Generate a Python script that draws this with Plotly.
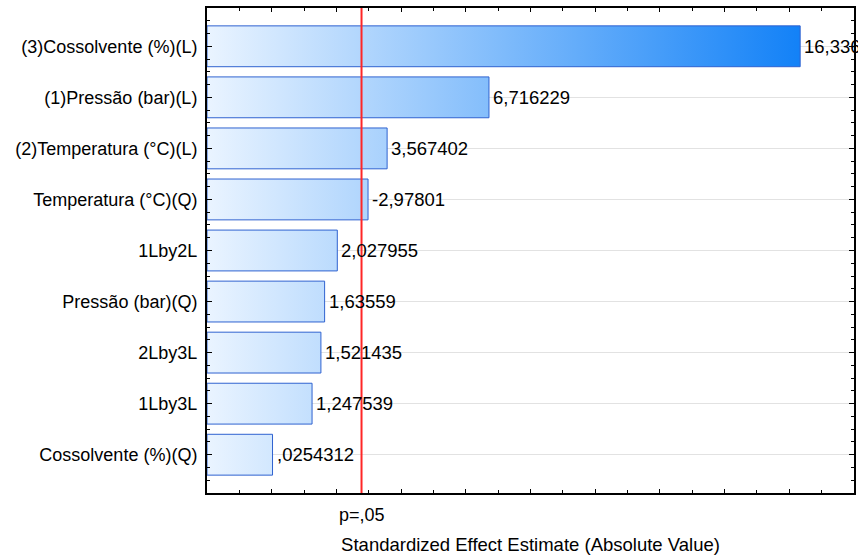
import plotly.graph_objects as go

# Pareto chart of standardized effects
factors = [
    "(3)Cossolvente (%)(L)",
    "(1)Pressão (bar)(L)",
    "(2)Temperatura (°C)(L)",
    "Temperatura (°C)(Q)",
    "1Lby2L",
    "Pressão (bar)(Q)",
    "2Lby3L",
    "1Lby3L",
    "Cossolvente (%)(Q)",
]
effects = [16.33602, 6.716229, 3.567402, -2.97801, 2.027955, 1.63559, 1.521435, 1.247539, 0.0254312]
alpha = 0.05
t_crit = 2.776445
x_range = [-2, 18]

FONT = "Liberation Sans, Arial, sans-serif"
BAR_W = 0.8


def fmt(v):
    """Format numbers with a decimal comma and no leading zero."""
    s = f"{v:.7g}".replace(".", ",")
    if s.startswith("0,"):
        s = s[1:]
    elif s.startswith("-0,"):
        s = "-" + s[2:]
    return s


abs_eff = [abs(v) for v in effects]
x0 = x_range[0]
vmax = max(abs_eff)

fig = go.Figure()

for i, a in enumerate(abs_eff):
    fig.add_trace(go.Scatter(
        x=[x0, a, a, x0, x0],
        y=[i - BAR_W / 2, i - BAR_W / 2, i + BAR_W / 2, i + BAR_W / 2, i - BAR_W / 2],
        mode="lines",
        fill="toself",
        fillgradient=dict(
            type="horizontal",
            colorscale=[[0, "#eaf4ff"], [1, "#1281f7"]],
            start=x0,
            stop=vmax,
        ),
        line=dict(color="#2f62d0", width=1),
        hoverinfo="skip",
        showlegend=False,
    ))
    # value label next to the bar
    fig.add_annotation(
        x=a, y=i, xref="x", yref="y",
        text=fmt(effects[i]), showarrow=False,
        xanchor="left", yanchor="middle", xshift=2,
        font=dict(family=FONT, size=18.5, color="#000000"),
    )

# significance threshold
fig.add_shape(
    type="line", xref="x", yref="paper",
    x0=t_crit, x1=t_crit, y0=0, y1=1,
    line=dict(color="#ff2626", width=2),
    layer="above",
)
fig.add_annotation(
    x=t_crit, xref="x", y=-0.045, yref="paper",
    text="p=" + fmt(alpha), showarrow=False,
    yanchor="middle", xanchor="center",
    font=dict(family=FONT, size=18, color="#000000"),
)

fig.update_layout(
    width=858, height=559,
    margin=dict(l=207, r=2, t=8, b=66),
    paper_bgcolor="white",
    plot_bgcolor="white",
    font=dict(family=FONT, size=18, color="#000000"),
    showlegend=False,
)

fig.update_xaxes(
    range=x_range,
    tick0=0, dtick=2,
    showticklabels=False,
    ticks="inside", ticklen=4, tickwidth=1, tickcolor="#000000",
    minor=dict(dtick=1, tick0=0, ticks="inside", ticklen=3, tickwidth=1, tickcolor="#000000", showgrid=False),
    showgrid=False, zeroline=False,
    showline=True, linecolor="#000000", linewidth=2, mirror="allticks",
    title=dict(text="Standardized Effect Estimate (Absolute Value)", standoff=44,
               font=dict(family=FONT, size=18.5, color="#000000")),
)

fig.update_yaxes(
    range=[len(factors) - 0.25, -0.75],
    tickmode="array",
    tickvals=list(range(len(factors))),
    ticktext=factors,
    ticks="inside", ticklen=5, tickwidth=1, tickcolor="#000000",
    minor=dict(dtick=0.25, tick0=0, ticks="inside", ticklen=3, tickwidth=1, tickcolor="#000000", showgrid=False),
    showgrid=True, gridcolor="#e2e2e2", gridwidth=1,
    zeroline=False,
    showline=True, linecolor="#000000", linewidth=2, mirror="allticks",
    tickfont=dict(family=FONT, size=18, color="#000000"),
    ticklabelstandoff=4,
)

fig.write_html("out.html")
